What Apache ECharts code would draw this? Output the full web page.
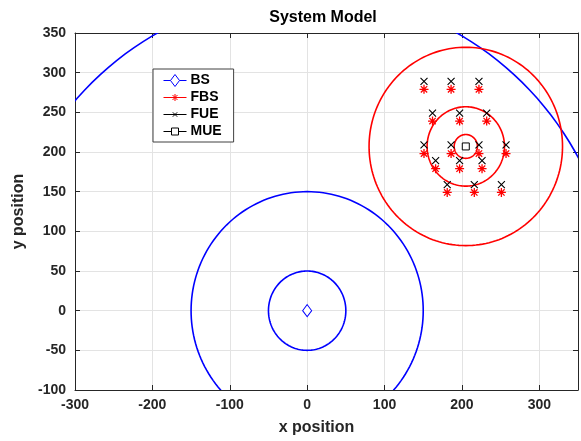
<!DOCTYPE html>
<html>
<head>
<meta charset="utf-8">
<script src="https://cdn.jsdelivr.net/npm/echarts@6/dist/echarts.min.js"></script>
<style>html,body{margin:0;padding:0;background:#fff;}#c{width:581px;height:441px;}</style>
</head>
<body>
<div id="c"></div>
<script>
// ---- data ----
var xTicks = [-300, -200, -100, 0, 100, 200, 300];
var yTicks = [-100, -50, 0, 50, 100, 150, 200, 250, 300, 350];
var bsPos = [[0, 0]];
var bsRadii = [50, 150, 400];
var mueCenter = [205, 207];
var mueRadii = [15, 50, 125];
var fbsPoints = [
  [151, 279], [186, 279], [222, 279],
  [162, 239], [197, 239], [232, 239],
  [151, 198], [186, 198], [222, 198], [257, 198],
  [166, 179], [197, 179], [226, 179],
  [181, 149], [216, 149], [251, 149]
];
var fuePoints = [
  [151, 289], [186, 289], [222, 289],
  [162, 249], [197, 249], [232, 249],
  [151, 209], [186, 209], [222, 209], [257, 209],
  [166, 189], [197, 189], [226, 189],
  [181, 159], [216, 159], [251, 159]
];
var muePos = [[205, 207]];

// ---- chart ----
var chart = echarts.init(document.getElementById('c'), null, {renderer: 'canvas'});
var FONT = 'Liberation Sans, Arial, Helvetica, sans-serif';
var TXT = '#262626';

function circleRender(color) {
  return function (params, api) {
    var cx = api.value(0), cy = api.value(1), r = api.value(2);
    var pts = [];
    for (var i = 0; i <= 360; i += 2) {
      var t = i * Math.PI / 180;
      pts.push(api.coord([cx + r * Math.cos(t), cy + r * Math.sin(t)]));
    }
    return {type: 'polyline', shape: {points: pts}, style: {stroke: color, lineWidth: 1.6, fill: null}};
  };
}

var asterisk = 'path://M0,-10L0,10M-10,0L10,0M-7.07,-7.07L7.07,7.07M-7.07,7.07L7.07,-7.07';
var xMark = 'path://M-10,-10L10,10M-10,10L10,-10';
var diamondMark = 'path://M0,-6L4.5,0L0,6L-4.5,0Z';
var squareMark = 'path://M-1,-1L1,-1L1,1L-1,1Z';

// legend icons (23 x 12 box: line with marker in the middle)
var BOX = 'M0,0M23,12';
var iconBS = 'path://' + BOX + 'M0,6L7,6M16,6L23,6M11.5,0L16,6L11.5,12L7,6Z';
var iconFBS = 'path://' + BOX + 'M0,6L23,6M11.5,2.5L11.5,9.5M8,6L15,6M9,3.5L14,8.5M9,8.5L14,3.5';
var iconFUE = 'path://' + BOX + 'M0,6L23,6M9.3,3.8L13.7,8.2M9.3,8.2L13.7,3.8';
var iconMUE = 'path://' + BOX + 'M0,6L8,6M15,6L23,6M8,2.5L15,2.5L15,9.5L8,9.5Z';

var axisCommon = {
  type: 'value',
  axisLine: {show: true, onZero: false, lineStyle: {color: TXT, width: 1}},
  axisTick: {show: true, inside: true, length: 5, lineStyle: {color: TXT}},
  splitLine: {show: true, lineStyle: {color: '#e3e3e3', width: 1}}
};

var option = {
  animation: false,
  backgroundColor: '#fff',
  title: {
    text: 'System Model', left: 318, top: 5, textAlign: 'center',
    textStyle: {fontFamily: FONT, fontWeight: 'bold', fontSize: 16, color: '#000'}
  },
  grid: {left: 75, right: -2, top: 33, bottom: 46, containLabel: false},
  xAxis: [
    Object.assign({}, axisCommon, {
      min: -300, max: 350, interval: 100, position: 'bottom',
      name: 'x position', nameLocation: 'middle', nameGap: 30,
      nameTextStyle: {fontFamily: FONT, fontWeight: 'bold', fontSize: 16, color: TXT, padding: [0, 20, 0, 0]},
      axisLabel: {fontFamily: FONT, fontWeight: 'bold', fontSize: 14, color: TXT, margin: 8,
        formatter: function (v) { return xTicks.indexOf(v) >= 0 ? String(v) : ''; }}
    }),
    Object.assign({}, axisCommon, {
      min: -300, max: 350, interval: 100, position: 'top',
      axisLabel: {show: false}, splitLine: {show: false}
    })
  ],
  yAxis: [
    Object.assign({}, axisCommon, {
      min: -100, max: 350, interval: 50, position: 'left',
      name: 'y position', nameLocation: 'middle', nameGap: 46,
      nameTextStyle: {fontFamily: FONT, fontWeight: 'bold', fontSize: 16, color: TXT},
      axisLabel: {fontFamily: FONT, fontWeight: 'bold', fontSize: 14, color: TXT, margin: 9,
        formatter: function (v) { return yTicks.indexOf(v) >= 0 ? String(v) : ''; }}
    }),
    Object.assign({}, axisCommon, {
      min: -100, max: 350, interval: 50, position: 'right',
      axisLabel: {show: false}, splitLine: {show: false}
    })
  ],
  legend: {
    left: 153, top: 69, orient: 'vertical',
    data: [
      {name: 'BS', icon: iconBS, itemStyle: {color: 'none', borderColor: '#0000ff', borderWidth: 1}},
      {name: 'FBS', icon: iconFBS, itemStyle: {color: 'none', borderColor: '#ff0000', borderWidth: 1}},
      {name: 'FUE', icon: iconFUE, itemStyle: {color: 'none', borderColor: '#000000', borderWidth: 1}},
      {name: 'MUE', icon: iconMUE, itemStyle: {color: 'none', borderColor: '#000000', borderWidth: 1}}
    ],
    itemWidth: 23, itemHeight: 12, itemGap: 0,
    padding: [3, 12, 2, 8],
    borderColor: '#404040', borderWidth: 1, backgroundColor: '#fff',
    selectedMode: false,
    textStyle: {fontFamily: FONT, fontWeight: 'bold', fontSize: 14, color: '#000', padding: [0, 0, 0, -1]}
  },
  series: [
    {
      type: 'custom', name: 'bsCircles', clip: true, silent: true,
      data: bsRadii.map(function (r) { return [bsPos[0][0], bsPos[0][1], r]; }),
      renderItem: circleRender('#0000ff'), z: 2
    },
    {
      type: 'custom', name: 'mueCircles', clip: true, silent: true,
      data: mueRadii.map(function (r) { return [mueCenter[0], mueCenter[1], r]; }),
      renderItem: circleRender('#ff0000'), z: 2
    },
    {
      type: 'line', name: 'BS', data: bsPos, symbol: diamondMark, symbolSize: [9, 12],
      itemStyle: {color: '#ffffff', borderColor: '#0000ff', borderWidth: 1}, lineStyle: {color: '#0000ff', width: 1}, z: 3
    },
    {
      type: 'line', name: 'FBS', data: fbsPoints, symbol: asterisk, symbolSize: 9,
      itemStyle: {color: '#ff0000', borderColor: '#ff0000', borderWidth: 1.3},
      lineStyle: {width: 0, opacity: 0}, z: 3
    },
    {
      type: 'line', name: 'FUE', data: fuePoints, symbol: xMark, symbolSize: 7,
      itemStyle: {color: '#000', borderColor: '#000', borderWidth: 1.1},
      lineStyle: {width: 0, opacity: 0}, z: 3
    },
    {
      type: 'line', name: 'MUE', data: muePos, symbol: squareMark, symbolSize: 7,
      itemStyle: {color: '#ffffff', borderColor: '#000', borderWidth: 1}, lineStyle: {color: '#000', width: 1}, z: 3
    }
  ]
};
chart.setOption(option);
</script>
</body>
</html>
